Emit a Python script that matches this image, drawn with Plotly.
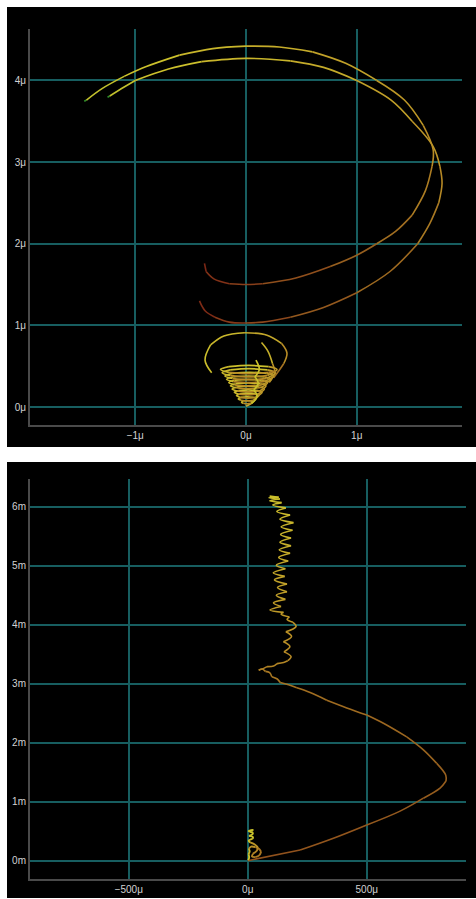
import numpy as np
import plotly.graph_objects as go
from plotly.colors import sample_colorscale

# ---------------- upper panel (both axes in micrometres) ----------------
# two long sweeping arcs
arc_a_x = [-1.46, -1.44, -1.30, -1.10, -0.90, -0.60, -0.30, 0.00, 0.30, 0.60, 0.90, 1.18, 1.43, 1.60,
           1.69, 1.68, 1.62, 1.50, 1.35, 1.18, 1.00, 0.76, 0.45, 0.15, 0.00, -0.15, -0.29, -0.36, -0.375]
arc_a_y = [3.745, 3.76, 3.90, 4.05, 4.17, 4.31, 4.39, 4.42, 4.41, 4.35, 4.21, 4.00, 3.76, 3.45,
           3.15, 2.95, 2.65, 2.35, 2.15, 2.00, 1.86, 1.72, 1.58, 1.51, 1.50, 1.51, 1.57, 1.66, 1.76]

arc_b_x = [-1.25, -1.23, -1.10, -1.00, -0.70, -0.40, 0.00, 0.40, 0.70, 1.00, 1.31, 1.50, 1.69, 1.75,
           1.77, 1.74, 1.66, 1.55, 1.30, 1.00, 0.70, 0.40, 0.15, 0.00, -0.15, -0.28, -0.37, -0.42]
arc_b_y = [3.795, 3.81, 3.92, 4.00, 4.14, 4.23, 4.27, 4.24, 4.16, 4.00, 3.76, 3.50, 3.19, 2.95,
           2.74, 2.50, 2.25, 2.00, 1.66, 1.40, 1.22, 1.10, 1.04, 1.03, 1.04, 1.10, 1.18, 1.30]

# tightening cone of loops near the origin (apex first, then loop by loop upward)
cone_x = [0.00,
          0.06, 0.045, 0.01, -0.025, -0.04, -0.025, 0.01, 0.045,
          0.09, 0.066, 0.01, -0.046, -0.07, -0.046, 0.01, 0.066,
          0.115, 0.085, 0.015, -0.055, -0.085, -0.055, 0.015, 0.085,
          0.145, 0.108, 0.02, -0.068, -0.105, -0.068, 0.02, 0.108,
          0.165, 0.122, 0.02, -0.082, -0.125, -0.082, 0.02, 0.122,
          0.18, 0.132, 0.02, -0.092, -0.14, -0.092, 0.02, 0.132,
          0.195, 0.143, 0.02, -0.103, -0.155, -0.103, 0.02, 0.143,
          0.225, 0.165, 0.025, -0.115, -0.175, -0.115, 0.025, 0.165,
          0.25, 0.184, 0.03, -0.124, -0.19, -0.124, 0.03, 0.184,
          0.265, 0.193, 0.025, -0.143, -0.215, -0.143, 0.025, 0.193,
          0.28, 0.204, 0.025, -0.154, -0.23, -0.154, 0.025, 0.204,
          0.27]
cone_y = [0.01,
          0.06, 0.074, 0.08, 0.074, 0.06, 0.046, 0.04, 0.046,
          0.10, 0.118, 0.125, 0.118, 0.10, 0.083, 0.075, 0.083,
          0.14, 0.161, 0.17, 0.161, 0.14, 0.119, 0.11, 0.119,
          0.18, 0.201, 0.21, 0.201, 0.18, 0.159, 0.15, 0.159,
          0.22, 0.245, 0.255, 0.245, 0.22, 0.196, 0.185, 0.196,
          0.26, 0.285, 0.295, 0.285, 0.26, 0.236, 0.225, 0.236,
          0.30, 0.328, 0.34, 0.328, 0.30, 0.272, 0.26, 0.272,
          0.34, 0.368, 0.38, 0.368, 0.34, 0.312, 0.30, 0.312,
          0.38, 0.412, 0.425, 0.412, 0.38, 0.349, 0.335, 0.349,
          0.42, 0.455, 0.47, 0.455, 0.42, 0.385, 0.37, 0.385,
          0.46, 0.495, 0.51, 0.495, 0.46, 0.425, 0.41, 0.425,
          0.44]
cone_depth = [0.30] + [0.45, 0.20, 0.12, 0.12, 0.15, 0.35, 0.55, 0.62] * 11 + [0.5]

loop_x = [-0.31, -0.37, -0.32, -0.20, -0.01, 0.19, 0.32, 0.37, 0.34, 0.30, 0.25]
loop_y = [0.42, 0.575, 0.76, 0.87, 0.91, 0.88, 0.78, 0.66, 0.53, 0.45, 0.36]
loop_depth = [0.15, 0.15, 0.18, 0.22, 0.25, 0.30, 0.40, 0.50, 0.58, 0.64, 0.66]

hook_x = [0.14, 0.20, 0.24, 0.26, 0.21]
hook_y = [0.79, 0.68, 0.53, 0.42, 0.30]
hook_depth = [0.18, 0.25, 0.35, 0.48, 0.58]

streak_x = [0.05, 0.10, 0.07, 0.11, 0.08, 0.12, 0.09]
streak_y = [0.045, 0.13, 0.21, 0.29, 0.37, 0.46, 0.575]
streak_depth = [0.10, 0.10, 0.10, 0.10, 0.10, 0.12, 0.14]

top_xticks = [-1, 0, 1]
top_xtext = ["\u22121\u03bc", "0\u03bc", "1\u03bc"]
top_yticks = [0, 1, 2, 3, 4]
top_ytext = ["0\u03bc", "1\u03bc", "2\u03bc", "3\u03bc", "4\u03bc"]

# ---------------- lower panel (x in micrometres, y in millimetres) ----------------
drift_x = [0, 24, 220, 360, 500, 640, 738, 808, 833, 832,
           794, 738, 668, 570, 500, 416, 332, 262, 206, 164,
           136, 124, 101, 92, 74, 60, 46, 67, 81, 109,
           123, 151, 168, 182, 152, 177, 150, 184, 160, 203,
           190, 165, 175, 140, 150, 93, 140, 108, 158, 120,
           165, 125, 165, 112, 155, 107, 158, 120, 170, 130,
           178, 132, 182, 135, 182, 138, 188, 140, 192, 135,
           178, 122, 160, 105, 142, 92, 135, 88, 130, 92]
drift_y = [0.0, 0.02, 0.18, 0.38, 0.605, 0.84, 1.06, 1.23, 1.35, 1.45,
           1.65, 1.88, 2.10, 2.33, 2.47, 2.59, 2.72, 2.85, 2.93, 2.99,
           3.02, 3.08, 3.12, 3.19, 3.21, 3.25, 3.23, 3.26, 3.29, 3.30,
           3.34, 3.36, 3.39, 3.46, 3.54, 3.63, 3.71, 3.80, 3.88, 3.97,
           4.04, 4.09, 4.13, 4.18, 4.21, 4.25, 4.31, 4.37, 4.43, 4.50,
           4.56, 4.63, 4.69, 4.76, 4.82, 4.88, 4.95, 5.01, 5.08, 5.14,
           5.21, 5.27, 5.34, 5.40, 5.47, 5.53, 5.60, 5.66, 5.73, 5.79,
           5.86, 5.92, 5.98, 6.03, 6.07, 6.10, 6.13, 6.15, 6.16, 6.18]

knot_x = [2, 6, 3, 8, 4, 14, 32, 48, 56, 48, 32, 18, 22, 38, 42, 28, 10, 4, 20, 22, 5, 20, 22, 4, 18, 24]
knot_y = [0.01, 0.06, 0.11, 0.16, 0.20, 0.24, 0.23, 0.20, 0.15, 0.09, 0.06, 0.07, 0.12, 0.17, 0.23,
          0.28, 0.31, 0.34, 0.37, 0.40, 0.42, 0.45, 0.48, 0.50, 0.52, 0.52]
knot_depth = [0.12, 0.12, 0.12, 0.18, 0.30, 0.50, 0.60, 0.62, 0.62, 0.60, 0.58, 0.55, 0.50, 0.55,
              0.55, 0.45, 0.30, 0.12, 0.10, 0.10, 0.10, 0.10, 0.10, 0.10, 0.10, 0.10]

bot_xticks = [-500, 0, 500]
bot_xtext = ["\u2212500\u03bc", "0\u03bc", "500\u03bc"]
bot_yticks = [0, 1, 2, 3, 4, 5, 6]
bot_ytext = ["0m", "1m", "2m", "3m", "4m", "5m", "6m"]

# colour ramp along the trails: green tip -> yellow -> amber -> rust red
TRAIL = [[0.0, "#2f8a2a"], [0.03, "#b8bc2c"], [0.12, "#cdc42c"], [0.3, "#c4aa2a"],
         [0.5, "#b88c26"], [0.7, "#98621f"], [0.87, "#883c1a"], [1.0, "#7a2414"]]

W, H = 476, 899
fig = go.Figure()


def add_path(xs, ys, shades, axes, width=1.6, tip=False):
    """Draw a path as short spline pieces, each tinted by its shade value."""
    n = len(xs)
    bounds = [0]
    if tip:
        bounds.append(1)
    while bounds[-1] < n - 1:
        bounds.append(min(bounds[-1] + 2, n - 1))
    for i, j in zip(bounds[:-1], bounds[1:]):
        s = shades[0] if (tip and i == 0) else float(np.mean(shades[i:j + 1]))
        colour = sample_colorscale(TRAIL, [min(max(s, 0.0), 1.0)])[0]
        fig.add_trace(go.Scatter(
            x=xs[i:j + 1], y=ys[i:j + 1], mode="lines",
            line=dict(color=colour, width=width, shape="spline", smoothing=1.0),
            xaxis=axes[0], yaxis=axes[1], hoverinfo="skip", showlegend=False))


def ramp(n, a, b):
    return list(np.linspace(a, b, n))


top = ("x", "y")
bot = ("x2", "y2")

add_path(arc_a_x, arc_a_y, ramp(len(arc_a_x), 0.0, 1.0), top, tip=True)
add_path(arc_b_x, arc_b_y, ramp(len(arc_b_x), 0.0, 1.0), top, tip=True)
add_path(loop_x, loop_y, loop_depth, top, width=1.6)
add_path(hook_x, hook_y, hook_depth, top, width=1.6)
add_path(cone_x, cone_y, cone_depth, top, width=1.7)
add_path(streak_x, streak_y, streak_depth, top, width=1.7)

add_path(drift_x, drift_y, ramp(len(drift_x), 0.78, 0.14), bot, width=1.6)
add_path(knot_x, knot_y, knot_depth, bot, width=1.9)

GRID = "#175e60"
AXLINE = "#4a4a4a"
TICKFONT = dict(family="Liberation Sans, Arial, sans-serif", size=10, color="#d2d2d2")

common = dict(showgrid=True, gridcolor=GRID, gridwidth=2, zeroline=False,
              showline=True, linecolor=AXLINE, linewidth=2, ticks="",
              tickfont=TICKFONT, tickmode="array", fixedrange=True)

fig.update_layout(
    width=W, height=H, autosize=False,
    margin=dict(l=0, r=0, t=0, b=0, pad=0),
    paper_bgcolor="white", plot_bgcolor="black",
    xaxis=dict(domain=[30 / W, 462 / W], range=[-1.95, 1.95], anchor="y",
               tickvals=top_xticks, ticktext=top_xtext, **common),
    yaxis=dict(domain=[474 / H, 870 / H], range=[-0.22, 4.63], anchor="x",
               tickvals=top_yticks, ticktext=top_ytext, **common),
    xaxis2=dict(domain=[30 / W, 466 / W], range=[-915, 917], anchor="y2",
                tickvals=bot_xticks, ticktext=bot_xtext, **common),
    yaxis2=dict(domain=[20 / H, 420 / H], range=[-0.31, 6.47], anchor="x2",
                tickvals=bot_yticks, ticktext=bot_ytext, **common),
    shapes=[
        dict(type="rect", xref="paper", yref="paper", x0=7 / W, x1=1.0,
             y0=452 / H, y1=892 / H, fillcolor="black", line=dict(width=0), layer="below"),
        dict(type="rect", xref="paper", yref="paper", x0=7 / W, x1=1.0,
             y0=1 / H, y1=437 / H, fillcolor="black", line=dict(width=0), layer="below"),
    ],
)

fig.write_html("out.html")
